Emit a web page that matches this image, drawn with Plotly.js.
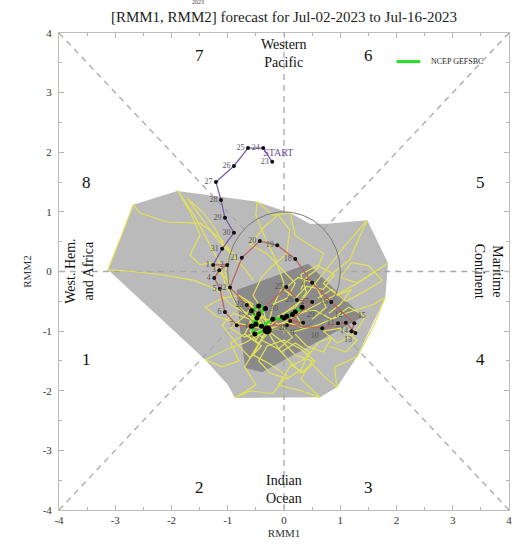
<!DOCTYPE html>
<html><head><meta charset="utf-8">
<script src="https://cdn.plot.ly/plotly-3.0.1.min.js"></script>
<style>html,body{margin:0;padding:0;background:#fff}#c{width:521px;height:545px}</style>
</head><body><div id="c"></div>
<script>
// ---------- DATA ----------
// Observed, May 23-31
const mayDays = ['23','24','25','26','27','28','29','30','31'];
const mayX = [-0.21,-0.37,-0.64,-0.89,-1.21,-1.12,-1.05,-0.89,-1.10];
const mayY = [1.84,2.07,2.07,1.77,1.50,1.20,0.90,0.65,0.38];
// Observed, June 1-30
const junDays = ['1','2','3','4','5','6','7','8','9','10','11','12','13','14','15','16','17','18','19','20','21','22','23','24','25','26','27','28','29','30'];
const junX = [-1.26,-1.01,-1.15,-1.24,-1.14,-1.05,-0.84,-0.55,0.05,0.68,0.96,1.10,1.27,1.20,1.25,0.84,0.50,0.20,-0.12,-0.43,-0.75,-0.96,-0.66,-0.45,0.04,0.23,0.50,0.11,0.34,-0.04];
const junY = [0.11,0.11,0.02,-0.11,-0.29,-0.68,-0.90,-0.92,-0.90,-0.95,-0.87,-0.86,-1.03,-1.00,-0.87,-0.51,-0.19,0.21,0.44,0.51,0.23,-0.27,-0.56,-0.70,-0.26,-0.48,-0.51,-0.83,-0.86,-0.76];
// Observed, July 1 (forecast start)
const jul1X = [-0.30];
const jul1Y = [-0.98];
// Ensemble mean forecast (NCEP GEFSBC), Jul 2 - Jul 16
const meanX = [-0.52,-0.58,-0.48,-0.58,-0.45,-0.33,-0.45,-0.50,-0.40,-0.20,0.00,0.15,0.32,0.20,0.05];
const meanY = [-1.05,-0.92,-0.78,-0.66,-0.58,-0.62,-0.72,-0.88,-0.92,-0.80,-0.78,-0.72,-0.60,-0.68,-0.75];
// Ensemble members (yellow)
const mem01X = [-0.30,-0.60,-0.95,-1.20,-1.60,-2.20,-2.70,-3.13,-2.92,-2.68,-2.56,-2.08,-1.49,-1.14,-0.90];
const mem01Y = [-0.98,-0.75,-0.55,-0.30,-0.15,-0.05,0.00,0.03,0.53,1.12,0.98,0.83,0.81,0.56,0.30];
const mem02X = [-0.30,-0.55,-0.85,-1.05,-1.15,-1.35,-1.60,-1.90,-1.67,-1.49,-1.67,-1.49,-1.30,-1.10,-0.95];
const mem02Y = [-0.98,-0.80,-0.55,-0.20,0.15,0.50,0.95,1.37,1.00,0.61,0.28,0.11,0.15,-0.05,-0.20];
const mem03X = [-0.30,-0.45,-0.70,-0.95,-1.05,-0.95,-1.20,-1.50,-1.72,-1.45,-1.26,-1.08,-0.85,-0.70,-0.55];
const mem03Y = [-0.98,-0.70,-0.50,-0.30,0.00,0.30,0.55,0.95,1.23,1.00,0.78,0.45,0.20,0.05,-0.15];
const mem04X = [-0.30,-0.20,0.00,-0.15,-0.35,-0.50,-0.48,-0.20,0.11,0.20,0.45,0.70,0.60,0.40,0.30];
const mem04Y = [-0.98,-0.60,-0.20,0.20,0.60,0.95,1.17,0.95,0.98,0.60,0.45,0.30,0.05,-0.10,-0.30];
const mem05X = [-0.30,0.00,0.30,0.55,0.80,1.10,1.48,1.35,1.17,0.90,0.70,0.95,1.20,1.00,0.80];
const mem05Y = [-0.98,-0.70,-0.50,-0.20,0.10,0.45,0.86,0.60,0.20,0.00,-0.20,-0.40,-0.30,-0.55,-0.70];
const mem06X = [-0.30,0.10,0.50,0.90,1.30,1.85,1.30,1.00,1.20,1.50,1.75,1.40,1.10,0.85,0.60];
const mem06Y = [-0.98,-0.80,-0.60,-0.40,-0.20,0.14,-0.19,-0.10,0.15,0.10,-0.15,-0.35,-0.50,-0.30,-0.45];
const mem07X = [-0.30,0.20,0.60,1.10,1.60,1.80,1.60,1.30,0.90,0.94,0.70,0.50,0.30,0.10,-0.10];
const mem07Y = [-0.98,-1.00,-0.90,-0.70,-0.55,-0.43,-0.90,-1.43,-1.60,-1.94,-1.75,-1.55,-1.70,-1.50,-1.30];
const mem08X = [-0.30,0.00,0.20,0.50,0.30,0.64,0.30,-0.10,0.10,0.40,0.60,0.85,0.70,0.40,0.20];
const mem08Y = [-0.98,-1.20,-1.40,-1.50,-1.80,-2.11,-2.00,-1.90,-1.60,-1.45,-1.20,-1.10,-1.35,-1.25,-1.05];
const mem09X = [-0.30,-0.50,-0.70,-0.50,-0.87,-0.60,-0.20,0.05,-0.25,-0.55,-0.40,-0.10,0.15,-0.05,-0.30];
const mem09Y = [-0.98,-1.30,-1.60,-1.90,-2.12,-2.00,-2.05,-1.75,-1.55,-1.40,-1.15,-1.30,-1.10,-0.90,-0.80];
const mem10X = [-0.30,-0.70,-1.00,-1.40,-1.10,-0.80,-0.95,-0.70,-0.40,-0.60,-0.85,-1.10,-0.90,-0.60,-0.45];
const mem10Y = [-0.98,-1.20,-1.30,-1.48,-1.60,-1.50,-1.20,-1.05,-1.25,-1.45,-1.20,-0.90,-0.70,-0.80,-0.60];
const mem11X = [-0.30,-0.65,-0.90,-1.20,-1.40,-1.10,-0.80,-0.55,-0.70,-0.95,-0.70,-0.45,-0.25,-0.50,-0.70];
const mem11Y = [-0.98,-0.90,-0.85,-0.75,-0.60,-0.45,-0.40,-0.55,-0.75,-0.95,-1.10,-1.00,-0.85,-0.65,-0.45];
const mem12X = [-0.30,-0.10,0.20,0.40,0.30,0.60,0.90,0.70,0.40,0.20,0.00,0.25,0.55,0.75,0.50];
const mem12Y = [-0.98,-0.75,-0.60,-0.35,-0.05,0.10,-0.05,-0.30,-0.25,-0.45,-0.30,-0.10,-0.20,-0.60,-0.80];
const mem13X = [-0.30,-0.35,-0.55,-0.40,-0.20,0.05,0.10,-0.10,-0.35,-0.60,-0.30,-0.05,0.20,0.05,-0.20];
const mem13Y = [-0.98,-0.70,-0.40,-0.10,0.10,0.30,0.70,0.95,0.75,0.45,0.30,0.05,-0.20,-0.45,-0.55];
const mem14X = [-0.30,-0.20,-0.05,0.20,0.45,0.30,0.05,-0.25,-0.45,-0.30,0.00,0.30,0.55,0.35,0.10];
const mem14Y = [-0.98,-1.15,-1.35,-1.20,-1.35,-1.65,-1.80,-1.70,-1.50,-1.25,-1.15,-1.30,-1.50,-1.70,-1.55];
const mem15X = [-0.30,-0.45,-0.60,-0.50,-0.35,-0.55,-0.70,-0.45,-0.30,-0.50,-0.65,-0.40,-0.20,-0.40,-0.55];
const mem15Y = [-0.98,-0.85,-1.00,-1.15,-0.95,-0.80,-1.05,-1.20,-1.05,-0.70,-0.90,-1.10,-0.95,-0.75,-0.95];
const mem16X = [-0.30,0.05,0.35,0.20,0.55,0.85,1.15,1.45,1.25,0.95,0.70,1.00,1.30,1.10,0.80];
const mem16Y = [-0.98,-0.85,-0.95,-0.70,-0.65,-0.80,-0.60,-0.75,-1.05,-1.20,-1.00,-0.95,-1.15,-1.35,-1.25];
// Ensemble spread envelopes
const outerX = [-2.68,-1.90,-0.48,0.11,0.46,0.76,1.48,1.85,1.80,1.30,0.94,0.64,-0.87,-1.00,-1.40,-3.13,-2.92];
const outerY = [1.12,1.35,1.17,0.98,0.80,0.80,0.86,0.14,-0.43,-1.43,-1.94,-2.11,-2.12,-1.90,-1.48,0.03,0.53];
const innerX = [-0.84,0.43,1.40,0.28,-0.39,-0.69,-0.78];
const innerY = [-0.31,0.13,-0.76,-1.35,-1.69,-1.62,-0.98];
// Tick values / labels
const tickVals = [-4,-3,-2,-1,0,1,2,3,4];
const tickText = ['-4','-3','-2','-1','0','1','2','3','4'];
// Phase numbers and region names
const phaseNum = ['1','2','3','4','5','6','7','8'];
const phaseX = [-3.52,-1.50,1.50,3.50,3.50,1.50,-1.50,-3.52];
const phaseY = [-1.48,-3.62,-3.62,-1.48,1.50,3.62,3.62,1.50];
const regionText = ['Western<br>Pacific','Indian<br>Ocean','West. Hem.<br>and Africa','Maritime<br>Continent'];
const regionX = [0, 0, -3.64, 3.64];
const regionY = [3.65, -3.65, 0, 0];
const regionAngle = [0, 0, -90, 90];

// ---------- FIGURE ----------
const serif = 'Liberation Serif, Times New Roman, serif';
const traces = [];
traces.push({x: outerX, y: outerY, type:'scatter', mode:'lines', fill:'toself', fillcolor:'#bababa', line:{width:0}, hoverinfo:'skip', showlegend:false});
traces.push({x: innerX, y: innerY, type:'scatter', mode:'lines', fill:'toself', fillcolor:'#8a8a8a', line:{width:0}, hoverinfo:'skip', showlegend:false});

// phase boundary dashed lines, from unit circle outward
const r = Math.SQRT1_2;
const dl = {
  x:[-4,-1,null,1,4,null,0,0,null,0,0,null,-4,-r,null,r,4,null,-4,-r,null,r,4],
  y:[0,0,null,0,0,null,-4,-1,null,1,4,null,-4,-r,null,r,4,null,4,r,null,-r,-4]
};
traces.push({x: dl.x, y: dl.y, type:'scatter', mode:'lines', line:{color:'#a8a8a8', width:1.3, dash:'6px,5px'}, hoverinfo:'skip', showlegend:false});

const mems = [[mem01X,mem01Y],[mem02X,mem02Y],[mem03X,mem03Y],[mem04X,mem04Y],[mem05X,mem05Y],[mem06X,mem06Y],[mem07X,mem07Y],[mem08X,mem08Y],[mem09X,mem09Y],[mem10X,mem10Y],[mem11X,mem11Y],[mem12X,mem12Y],[mem13X,mem13Y],[mem14X,mem14Y],[mem15X,mem15Y],[mem16X,mem16Y]];
mems.forEach(m => traces.push({x:m[0], y:m[1], type:'scatter', mode:'lines', line:{color:'#e2e256', width:1.2}, hoverinfo:'skip', showlegend:false}));

// unit circle
const cx = [], cy = [];
for (let i = 0; i <= 120; i++) { const a = 2*Math.PI*i/120; cx.push(Math.cos(a)); cy.push(Math.sin(a)); }
traces.push({x:cx, y:cy, type:'scatter', mode:'lines', line:{color:'#7a7a7a', width:1}, hoverinfo:'skip', showlegend:false});

// observed
traces.push({x: mayX.concat([junX[0]]), y: mayY.concat([junY[0]]), type:'scatter', mode:'lines', line:{color:'#7b5fa8', width:1.3}, showlegend:false});
traces.push({x: junX.concat(jul1X), y: junY.concat(jul1Y), type:'scatter', mode:'lines', line:{color:'#b96560', width:1.3}, showlegend:false});
// ensemble mean
traces.push({x: jul1X.concat(meanX), y: jul1Y.concat(meanY), type:'scatter', mode:'lines+markers', line:{color:'#22dd22', width:2.5}, marker:{color:'#000', size:5}, name:'NCEP GEFSBC', showlegend:false});
const junPos = junDays.map(() => 'middle left');
junPos[12] = 'bottom left'; junPos[13] = 'middle left'; junPos[14] = 'top right'; junPos[11] = 'top left';
junPos[27] = 'bottom left'; junPos[28] = 'top right'; junPos[29] = 'top left'; junPos[8] = 'bottom right'; junPos[9] = 'bottom left';
traces.push({x: mayX, y: mayY, type:'scatter', mode:'markers+text', text: mayDays, textposition:'middle left', textfont:{family:serif, size:8, color:'#555'}, marker:{color:'#111', size:4}, showlegend:false});
traces.push({x: junX, y: junY, type:'scatter', mode:'markers+text', text: junDays, textposition: junPos, textfont:{family:serif, size:8, color:'#555'}, marker:{color:'#111', size:4}, showlegend:false});
traces.push({x: jul1X, y: jul1Y, type:'scatter', mode:'markers', marker:{color:'#000', size:9}, showlegend:false});
// START label
traces.push({x:[mayX[1]], y:[mayY[1]], type:'scatter', mode:'text', text:['START'], textposition:'bottom right', textfont:{family:serif, size:10, color:'#6d4fa0'}, showlegend:false});

const annotations = [];
phaseNum.forEach((t,i) => annotations.push({x:phaseX[i], y:phaseY[i], xref:'x', yref:'y', text:t, showarrow:false, font:{family:serif, size:17, color:'#111'}}));
regionText.forEach((t,i) => annotations.push({x:regionX[i], y:regionY[i], xref:'x', yref:'y', text:t, showarrow:false, textangle:regionAngle[i], font:{family:serif, size:14, color:'#111'}}));
annotations.push({x:2.58, y:3.52, xref:'x', yref:'y', xanchor:'left', text:'NCEP GEFSBC', showarrow:false, font:{family:serif, size:8, color:'#222'}});
annotations.push({x:0.29, y:1.0, xref:'paper', yref:'paper', yanchor:'bottom', yshift:26, text:'2023', showarrow:false, font:{family:serif, size:6, color:'#444'}});

const axisBase = {
  range:[-4,4], autorange:false, tickvals: tickVals, ticktext: tickText,
  ticks:'inside', ticklen:5, tickcolor:'#b5b5b5', showline:true, linecolor:'#bdbdbd', linewidth:1, mirror:'ticks',
  showgrid:false, zeroline:false, tickfont:{family:serif, size:11, color:'#333'},
  minor:{ticks:'inside', dtick:0.5, ticklen:3, tickcolor:'#b5b5b5', showgrid:false}
};
const layout = {
  width:521, height:545, margin:{l:59, r:12, t:33, b:35},
  paper_bgcolor:'#fff', plot_bgcolor:'#fff',
  title:{text:'[RMM1, RMM2] forecast for Jul-02-2023 to Jul-16-2023', x:0.5, xref:'paper', xanchor:'center', y:1-17/545, yref:'container', yanchor:'middle', font:{family:serif, size:15, color:'#222'}},
  xaxis: Object.assign({}, axisBase, {title:{text:'RMM1', font:{family:serif, size:11, color:'#333'}, standoff:4}}),
  yaxis: Object.assign({}, axisBase, {ticklabelstandoff:4, title:{text:'RMM2', font:{family:serif, size:11, color:'#333'}, standoff:8}}),
  shapes:[{type:'line', xref:'x', yref:'y', x0:2.0, x1:2.42, y0:3.52, y1:3.52, line:{color:'#22dd22', width:3}}],
  annotations: annotations,
  showlegend:false
};
Plotly.newPlot('c', traces, layout, {displayModeBar:false, staticPlot:true});
</script></body></html>
